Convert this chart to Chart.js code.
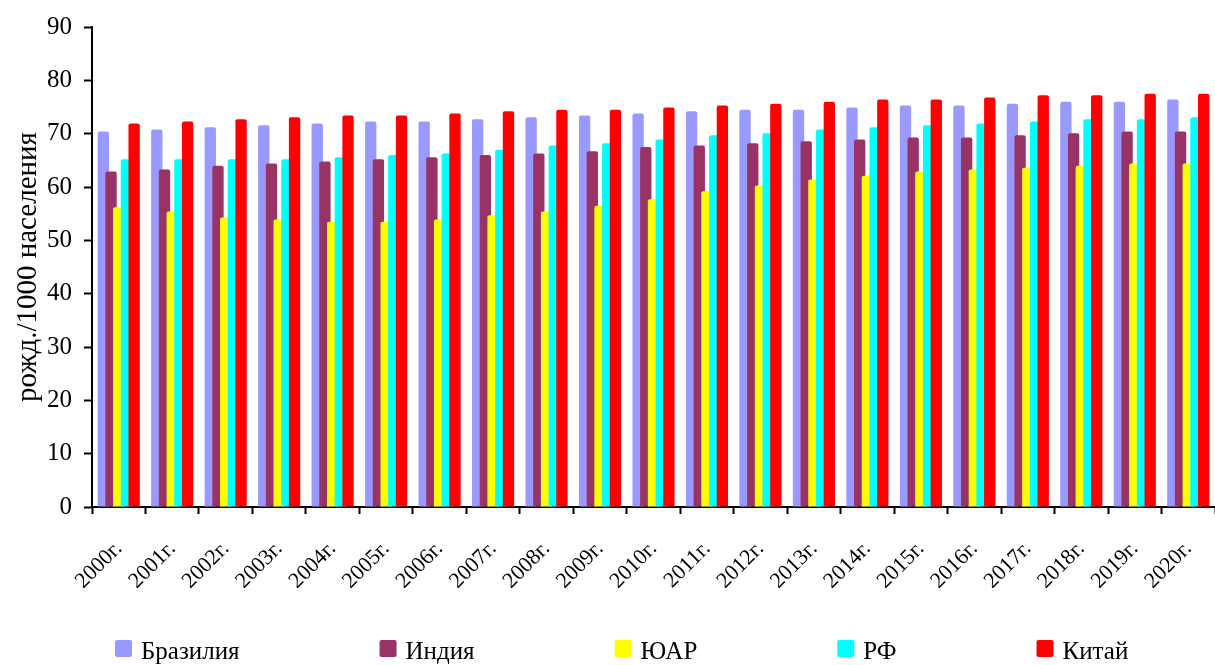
<!DOCTYPE html>
<html lang="ru">
<head>
<meta charset="utf-8">
<title>Рождаемость</title>
<script src="https://cdn.jsdelivr.net/npm/chart.js@4/dist/chart.umd.min.js"></script>
<style>
  html, body { margin: 0; padding: 0; background: #ffffff; }
  canvas { display: block; }
</style>
</head>
<body>
<canvas id="chart" width="1215" height="665"></canvas>
<script>
// Годы наблюдения
const years = ['2000г.', '2001г.', '2002г.', '2003г.', '2004г.', '2005г.', '2006г.', '2007г.',
  '2008г.', '2009г.', '2010г.', '2011г.', '2012г.', '2013г.', '2014г.', '2015г.', '2016г.',
  '2017г.', '2018г.', '2019г.', '2020г.'];

// Значения по странам, рожд./1000 населения
const brazil = [70.4, 70.8, 71.2, 71.6, 71.9, 72.3, 72.3, 72.7, 73.1, 73.4, 73.8,
  74.2, 74.5, 74.5, 74.9, 75.3, 75.3, 75.6, 76.0, 76.0, 76.4];
const india = [62.9, 63.3, 64.0, 64.4, 64.8, 65.2, 65.6, 66.0, 66.3, 66.7, 67.5,
  67.8, 68.2, 68.6, 68.9, 69.3, 69.3, 69.7, 70.1, 70.4, 70.4];
const southAfrica = [56.2, 55.4, 54.3, 53.9, 53.5, 53.5, 53.9, 54.7, 55.4, 56.5, 57.7,
  59.2, 60.3, 61.4, 62.1, 62.9, 63.3, 63.6, 64.0, 64.4, 64.4];
const russia = [65.2, 65.2, 65.2, 65.2, 65.6, 66.0, 66.3, 67.0, 67.8, 68.2, 68.9,
  69.7, 70.1, 70.8, 71.2, 71.6, 71.9, 72.3, 72.7, 72.7, 73.1];
const china = [71.9, 72.3, 72.7, 73.1, 73.4, 73.4, 73.8, 74.2, 74.5, 74.5, 74.9,
  75.3, 75.6, 76.0, 76.4, 76.4, 76.8, 77.2, 77.2, 77.5, 77.5];

// Шкала Y
const yTicks = [0, 10, 20, 30, 40, 50, 60, 70, 80, 90];

const seriesNames = ['Бразилия', 'Индия', 'ЮАР', 'РФ', 'Китай'];
const seriesColors = ['#9999FF', '#993366', '#FFFF00', '#00FFFF', '#FF0000'];
const seriesValues = [brazil, india, southAfrica, russia, china];

const FONT = "'Liberation Serif', 'Times New Roman', serif";

// Столбцы рисуются слева направо, чтобы правый перекрывал левый
const paintLeftToRight = {
  id: 'paintLeftToRight',
  beforeDatasetsDraw(chart) {
    chart.getSortedVisibleDatasetMetas().forEach(meta => meta.controller.draw());
    return false;
  }
};

// Легенда в одну строку под осью
const bottomLegend = {
  id: 'bottomLegend',
  afterDraw(chart, args, opts) {
    const ctx = chart.ctx;
    ctx.save();
    ctx.font = opts.fontSize + 'px ' + FONT;
    ctx.textBaseline = 'alphabetic';
    let x = opts.left;
    chart.data.datasets.forEach(ds => {
      ctx.fillStyle = ds.backgroundColor;
      ctx.beginPath();
      ctx.roundRect(x, opts.boxTop, opts.box, opts.box, 2);
      ctx.fill();
      ctx.fillStyle = '#000000';
      const tx = x + opts.box + opts.textGap;
      ctx.fillText(ds.label, tx, opts.baseline);
      x = tx + ctx.measureText(ds.label).width + opts.itemGap;
    });
    ctx.restore();
  }
};

new Chart(document.getElementById('chart'), {
  type: 'bar',
  data: {
    labels: years,
    datasets: seriesNames.map((name, i) => ({
      label: name,
      data: seriesValues[i],
      backgroundColor: seriesColors[i],
      borderWidth: 0,
      borderRadius: { topLeft: 2, topRight: 2, bottomLeft: 0, bottomRight: 0 },
      borderSkipped: 'start',
      categoryPercentage: 0.72,
      barPercentage: 1.47
    }))
  },
  options: {
    responsive: false,
    animation: false,
    devicePixelRatio: 1,
    layout: { padding: { top: 24, right: 0, bottom: 0, left: 0 } },
    plugins: {
      legend: { display: false },
      tooltip: { enabled: false },
      bottomLegend: {
        left: 115, boxTop: 640, box: 17, textGap: 9, itemGap: 140,
        baseline: 659, fontSize: 25
      }
    },
    scales: {
      x: {
        grid: {
          display: true, offset: true, drawOnChartArea: false, drawTicks: true,
          tickLength: 7, tickWidth: 2, tickColor: '#000000'
        },
        border: { display: true, color: '#000000', width: 2 },
        ticks: {
          color: '#000000',
          font: { family: FONT, size: 22 },
          minRotation: 45, maxRotation: 45,
          padding: 22,
          autoSkip: false
        },
        afterFit(scale) {
          scale.height = 158;
          scale.paddingLeft = 0;
          scale.paddingRight = 0;
        }
      },
      y: {
        min: 0, max: 90,
        afterBuildTicks(scale) { scale.ticks = yTicks.map(v => ({ value: v })); },
        grid: {
          display: true, drawOnChartArea: false, drawTicks: true,
          tickLength: 8, tickWidth: 2, tickColor: '#000000'
        },
        border: { display: true, color: '#000000', width: 2 },
        ticks: {
          color: '#000000',
          font: { family: FONT, size: 25 },
          padding: 12
        },
        title: {
          display: true,
          text: 'рожд./1000 населения',
          color: '#000000',
          font: { family: FONT, size: 29 },
          padding: { top: 11, bottom: 0 }
        },
        afterFit(scale) { scale.width = 92; }
      }
    }
  },
  plugins: [paintLeftToRight, bottomLegend]
});
</script>
</body>
</html>
